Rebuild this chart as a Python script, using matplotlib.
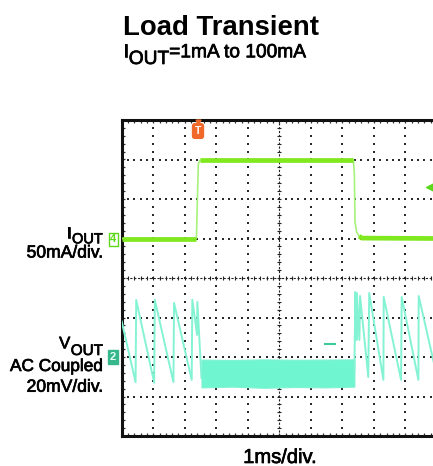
import numpy as np
import matplotlib
matplotlib.use("Agg")
import matplotlib.pyplot as plt
import matplotlib.patheffects as pe

plt.rcParams['font.family'] = ['Liberation Sans', 'DejaVu Sans']

# scope settings
ms_per_div = 1.0
iout_ma_per_div = 50.0
vout_mv_per_div = 20.0
iout_zero_div = 4.98   # ch4 marker position (divisions from bottom)
vout_zero_div = 2.0    # ch2 marker position

# I_OUT trace (ms, mA)
iout_t = [0.0, 2.37, 2.40, 2.43, 2.48, 7.35, 7.38, 7.40, 7.45, 7.53, 7.62, 10.0]
iout_ma = [1.0, 1.0, 49.7, 95.0, 100.0, 100.0, 81.4, 21.9, 9.3, 4.0, 1.5, 1.0]

# V_OUT ripple before the load step (ms, mV)
vpre_t = [0.00, 0.44, 0.46, 1.03, 1.05, 1.64, 1.66, 2.22, 2.24, 2.39, 2.40, 2.53]
vpre_mv = [18.0, -12.7, 28.9, -13.0, 29.0, -12.7, 27.4, -11.6, 29.0, 11.2, 27.9, -10.6]

# V_OUT noise band during 100mA load (ms, mV)
band_t = [2.53, 3.5, 4.5, 5.5, 6.5, 7.38]
band_hi = [-1.3, -1.5, -1.2, -1.4, -1.3, -1.2]
band_lo = [-15.4, -15.0, -15.6, -15.2, -15.4, -15.0]

# V_OUT ripple after the load release (ms, mV)
vpost_t = [7.38, 7.41, 7.45, 7.46, 7.54, 7.56, 7.82, 7.85, 8.30, 8.31, 8.86, 8.88, 9.41, 9.42, 10.0]
vpost_mv = [-7.6, 32.9, 8.6, 32.4, 8.6, 30.9, -10.1, 32.4, -11.6, 30.4, -11.6, 30.4, -11.6, 30.9, -10.0]

fig = plt.figure(figsize=(4.33, 4.66), dpi=100)
W, H = 433.0, 466.0
ax = fig.add_axes([121.7 / W, 1 - 436 / H, 315.3 / W, 316 / H])
ax.set_xlim(0, 10)
ax.set_ylim(0, 8)

# graticule: dotted grid, dense centre lines, ticks along the border
minor = np.arange(0.2, 10, 0.2)
minor_y = np.arange(0.2, 8, 0.2)
for gx in range(1, 10):
    if gx == 5:
        continue
    ax.scatter(np.full(len(minor_y), gx), minor_y, s=1.1, marker='s', color='#2a2a2a', lw=0, zorder=1)
for gy in range(1, 8):
    if gy == 4:
        continue
    ax.scatter(minor, np.full(len(minor), gy), s=1.1, marker='s', color='#2a2a2a', lw=0, zorder=1)
ax.axvline(5, color='#222222', lw=0.8, ls=(0, (2, 1.5)), zorder=1)
ax.axhline(4, color='#222222', lw=0.8, ls=(0, (2, 1.5)), zorder=1)
ax.scatter(np.full(len(minor_y), 5), minor_y, s=8, marker='_', color='#222222', lw=0.8, zorder=1)
ax.scatter(minor, np.full(len(minor), 4), s=8, marker='|', color='#222222', lw=0.8, zorder=1)

ax.set_xticks(minor)
ax.set_yticks(minor_y)
ax.tick_params(which='both', direction='in', length=2.5, width=0.9, color='#333333',
               top=True, right=True, labelbottom=False, labelleft=False)
for sp in ax.spines.values():
    sp.set_linewidth(2.2)
    sp.set_color('#111111')

# channel axes
ax_i = ax.twinx()
ax_i.set_ylim(-iout_zero_div * iout_ma_per_div, (8 - iout_zero_div) * iout_ma_per_div)
ax_v = ax.twinx()
ax_v.set_ylim(-vout_zero_div * vout_mv_per_div, (8 - vout_zero_div) * vout_mv_per_div)
for a in (ax_i, ax_v):
    a.set_xlim(0, 10 * ms_per_div)
    a.axis('off')

# I_OUT
ax_i.plot(iout_t, iout_ma, color='#a6f27a', lw=1.2, zorder=3)
for s0, s1 in ((0, 2), (4, 6), (9, 12)):
    ax_i.plot(iout_t[s0:s1], iout_ma[s0:s1], color='#80e81e', lw=3.4, solid_capstyle='butt', zorder=4)

# V_OUT
ax_v.plot(vpre_t, vpre_mv, color='#84f3d4', lw=1.4, zorder=3)
ax_v.fill_between(band_t, band_lo, band_hi, color='#6ff5d0', lw=0.8, edgecolor='#7ff2d4', zorder=3)
ax_v.plot(vpost_t, vpost_mv, color='#84f3d4', lw=1.4, zorder=3)
ax_v.plot([6.45, 6.77], [6.6, 6.6], color='#3cc99c', lw=1.5, zorder=3)

# markers: trigger, trigger level, channel tags
ax.plot([2.42], [7.96], marker='v', ms=3.5, color='#f0682a', clip_on=False, zorder=6)
ax.text(2.42, 7.72, "T", fontsize=7.5, weight='bold', color='white', ha='center', va='center',
        bbox=dict(boxstyle='round,pad=0.22', fc='#f0682a', ec='#f0682a'), zorder=6)
ax.plot([9.84], [6.30], marker='<', ms=8.5, color='#5cd81a', mec='#5cd81a', clip_on=False, zorder=6)
tr = ax.get_yaxis_transform()
ax.text(-0.027, iout_zero_div, "4", transform=tr, fontsize=8, weight='bold', color='#5cd81a',
        ha='center', va='center', clip_on=False,
        bbox=dict(boxstyle='square,pad=0.12', fc='white', ec='#5cd81a', lw=1))
ax.text(-0.027, vout_zero_div, "2", transform=tr, fontsize=8, weight='bold', color='#e8fff6',
        ha='center', va='center', clip_on=False,
        bbox=dict(boxstyle='square,pad=0.15', fc='#37b88c', ec='#37b88c', lw=1))

# slightly heavier strokes for the regular-weight text
heavy = [pe.withStroke(linewidth=0.5, foreground='black')]

# titles
fig.text(123 / W, 1 - 35 / H, "Load Transient", fontsize=19.8, weight='bold', va='baseline')
t1 = fig.text(123 / W, 1 - 57.3 / H, "I", fontsize=13.8, va='baseline', path_effects=heavy)
t2 = ax.annotate("OUT", xy=(1, 0), xycoords=t1, xytext=(0.5, -6.7), textcoords='offset pixels',
                 fontsize=13.8, va='bottom', ha='left', path_effects=heavy)
ax.annotate("=1mA to 100mA", xy=(1, 0), xycoords=t2, xytext=(0, 6.7), textcoords='offset pixels',
            fontsize=13.8, va='bottom', ha='left', path_effects=heavy)

# channel labels
o1 = fig.text(103 / W, 1 - 243.3 / H, "OUT", fontsize=10.5, ha='right', va='baseline', path_effects=heavy)
ax.annotate("I", xy=(0, 0), xycoords=o1, xytext=(-0.5, 5), textcoords='offset pixels',
            fontsize=12, ha='right', va='bottom', path_effects=heavy)
fig.text(103 / W, 1 - 257.5 / H, "50mA/div.", fontsize=12.6, ha='right', va='baseline', path_effects=heavy)

o2 = fig.text(103 / W, 1 - 355 / H, "OUT", fontsize=11, ha='right', va='baseline', path_effects=heavy)
ax.annotate("V", xy=(0, 0), xycoords=o2, xytext=(-0.5, 6.7), textcoords='offset pixels',
            fontsize=12, ha='right', va='bottom', path_effects=heavy)
fig.text(103 / W, 1 - 371 / H, "AC Coupled", fontsize=12.4, ha='right', va='baseline', path_effects=heavy)
fig.text(103 / W, 1 - 391.7 / H, "20mV/div.", fontsize=12.6, ha='right', va='baseline', path_effects=heavy)

fig.text(280 / W, 1 - 463 / H, "1ms/div.", fontsize=14.5, ha='center', va='baseline', path_effects=heavy)

fig.savefig("out.png", dpi=100)
